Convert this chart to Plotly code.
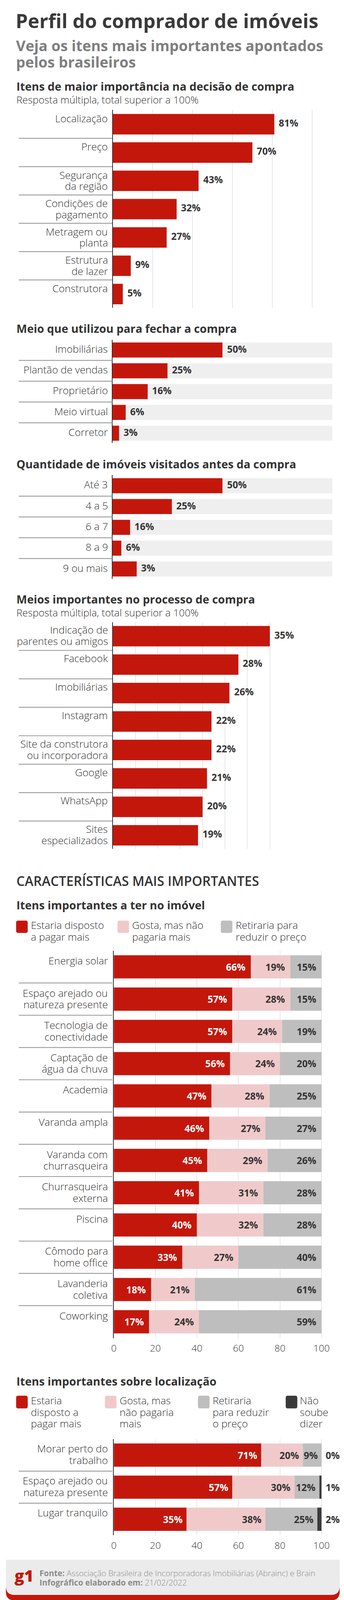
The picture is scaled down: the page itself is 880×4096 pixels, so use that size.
import numpy as np
import plotly.graph_objects as go

# ------------------------------------------------------------------ data
decisao_cat = ["Localização", "Preço", "Segurança<br>da região", "Condições de<br>pagamento",
               "Metragem ou<br>planta", "Estrutura<br>de lazer", "Construtora"]
decisao_val = [81, 70, 43, 32, 27, 9, 5]

fechar_cat = ["Imobiliárias", "Plantão de vendas", "Proprietário", "Meio virtual", "Corretor"]
fechar_val = [50, 25, 16, 6, 3]

visitas_cat = ["Até 3", "4 a 5", "6 a 7", "8 a 9", "9 ou mais"]
visitas_barra = [50, 27, 8, 4, 11]      # bar lengths as drawn in the original
visitas_rotulo = [50, 25, 16, 6, 3]     # values printed in the original

meios_cat = ["Indicação de<br>parentes ou amigos", "Facebook", "Imobiliárias", "Instagram",
             "Site da construtora<br>ou incorporadora", "Google", "WhatsApp", "Sites<br>especializados"]
meios_val = [35, 28, 26, 22, 22, 21, 20, 19]

itens_cat = ["Energia solar", "Espaço arejado ou<br>natureza presente", "Tecnologia de<br>conectividade",
             "Captação de<br>água da chuva", "Academia", "Varanda ampla", "Varanda com<br>churrasqueira",
             "Churrasqueira<br>externa", "Piscina", "Cômodo para<br>home office", "Lavanderia<br>coletiva",
             "Coworking"]
itens_pagaria = [66, 57, 57, 56, 47, 46, 45, 41, 40, 33, 18, 17]
itens_gosta = [19, 28, 24, 24, 28, 27, 29, 31, 32, 27, 21, 24]
itens_retiraria = [15, 15, 19, 20, 25, 27, 26, 28, 28, 40, 61, 59]
itens_series = ["Estaria disposto<br>a pagar mais", "Gosta, mas não<br>pagaria mais",
                "Retiraria para<br>reduzir o preço"]

local_cat = ["Morar perto do<br>trabalho", "Espaço arejado ou<br>natureza presente", "Lugar tranquilo"]
local_pagaria = [71, 57, 35]
local_gosta = [20, 30, 38]
local_retiraria = [9, 12, 25]
local_nao_sabe = [0, 1, 2]
local_series = ["Estaria<br>disposto a<br>pagar mais", "Gosta, mas<br>não pagaria<br>mais",
                "Retiraria<br>para reduzir<br>o preço", "Não<br>soube<br>dizer"]

eixo_ticks = [0, 20, 40, 60, 80, 100]
escala_max = 100

# ------------------------------------------------------------------ style
S = 880 / 1008
W, H = 1008, 4691
FONT = "Open Sans"
RED, PINK, GRAY, DARK = "#C4170C", "#F0CACA", "#BEBEBE", "#3A3A3A"
TRACK, TXT, GRID, SEP = "#EFEFEF", "#333333", "#D4D4D4", "#9A9A9A"


def fx(x):
    return x / W


def fy(y):
    return 1 - y / H


fig = go.Figure()
annotations, shapes, axes = [], [], {}


def font(size, color=TXT, weight=400):
    return dict(family=FONT, size=size * S, color=color, weight=weight)


def text(x, base, s, size, color=TXT, weight=400, xanchor="left"):
    annotations.append(dict(x=fx(x), y=fy(base - 0.35 * size), xref="paper", yref="paper",
                            text=s, showarrow=False, xanchor=xanchor, yanchor="middle",
                            borderpad=0, font=font(size, color, weight)))


def rrect(x0, y0, x1, y1, rt, rb):
    p = [f"M{fx(x0 + rt)},{fy(y0)}", f"L{fx(x1 - rt)},{fy(y0)}",
         f"Q{fx(x1)},{fy(y0)} {fx(x1)},{fy(y0 + rt)}", f"L{fx(x1)},{fy(y1 - rb)}",
         f"Q{fx(x1)},{fy(y1)} {fx(x1 - rb)},{fy(y1)}", f"L{fx(x0 + rb)},{fy(y1)}",
         f"Q{fx(x0)},{fy(y1)} {fx(x0)},{fy(y1 - rb)}", f"L{fx(x0)},{fy(y0 + rt)}",
         f"Q{fx(x0)},{fy(y0)} {fx(x0 + rt)},{fy(y0)}", "Z"]
    return " ".join(p)


def section(k, n, x0, unit, xmax, ytop, ybot, c0, pitch, bh, grid=None, ticks=False):
    s = "" if k == 1 else str(k)
    xa = dict(domain=[fx(x0), fx(x0 + unit * xmax)], range=[0, xmax], anchor="y" + s,
              showgrid=grid is not None, gridcolor=GRID, gridwidth=1.5 * S,
              tick0=0, dtick=grid or 20, zeroline=False, showline=False, ticks="",
              showticklabels=ticks, fixedrange=True)
    if ticks:
        xa.update(tickvals=eixo_ticks, ticktext=[str(t) for t in eixo_ticks],
                  tickfont=font(28, TXT, 300), ticklabelstandoff=9)
    axes["xaxis" + s] = xa
    axes["yaxis" + s] = dict(domain=[fy(ybot), fy(ytop)], range=[(ybot - c0) / pitch, (ytop - c0) / pitch],
                             anchor="x" + s, showgrid=False, zeroline=False, showticklabels=False,
                             showline=True, linecolor=TXT, linewidth=2 * S, fixedrange=True)
    for i in range(n - 1):
        shapes.append(dict(type="line", xref="paper", yref="y" + s, x0=fx(39), x1=fx(321),
                           y0=i + 0.5, y1=i + 0.5, line=dict(color=SEP, width=2.5 * S)))
    return "x" + s, "y" + s, bh / pitch


def bar(xa, ya, vals, color, bw, base=None):
    fig.add_trace(go.Bar(x=list(vals), y=list(range(len(vals))), base=None if base is None else list(base),
                         orientation="h", width=bw, marker=dict(color=color, line=dict(width=0)),
                         xaxis=xa, yaxis=ya, hoverinfo="skip", showlegend=False, opacity=1))


def cat_labels(ya, cats, bw, d0=23, ls=34, size=30, centered=False):
    for i, c in enumerate(cats):
        for j, ln in enumerate(c.split("<br>")):
            if centered:
                y, ysh = i, 3.5 * S
            else:
                y, ysh = i - bw / 2, -(d0 + j * ls - 0.35 * size) * S
            annotations.append(dict(x=fx(310), xref="paper", y=y, yref=ya, text=ln, showarrow=False,
                                    xanchor="right", yanchor="middle", yshift=ysh,
                                    font=font(size, TXT, 300)))


def out_labels(xa, ya, xs, labels, size=28, ysh=4):
    for i, (v, lab) in enumerate(zip(xs, labels)):
        annotations.append(dict(x=v, xref=xa, y=i, yref=ya, text=f"{lab}%", showarrow=False,
                                xanchor="left", yanchor="middle", xshift=11 * S, yshift=ysh * S,
                                font=font(size, TXT, 700)))


def stacked(xa, ya, series, colors, bw, pad, outside_last=False):
    n = len(series[0])
    base = np.zeros(n)
    for k, (vals, col) in enumerate(zip(series, colors)):
        bar(xa, ya, vals, col, bw, base=base)
        ends = base + np.array(vals)
        for i, v in enumerate(vals):
            last_out = outside_last and k == len(series) - 1
            annotations.append(dict(x=ends[i], xref=xa, y=i, yref=ya, text=f"{v}%", showarrow=False,
                                    xanchor="left" if last_out else "right", yanchor="middle",
                                    xshift=(10 if last_out else -pad) * S,
                                    font=font(28, "white" if k == 0 else TXT, 700)))
        base = ends


def legend(items, y0, y1, base0, ls=34.5):
    for col, lab, sx, tx in items:
        shapes.append(dict(type="path", xref="paper", yref="paper", path=rrect(sx, y0, sx + 35, y1, 6, 6),
                           fillcolor=col, line=dict(width=0)))
        for j, ln in enumerate(lab.split("<br>")):
            text(tx, base0 + j * ls, ln, 30, TXT, 300)


# ------------------------------------------------------------------ header
text(28, 72, "Perfil do comprador de imóveis", 57, "#3A3A3A", 700)
text(29, 139, "Veja os itens mais importantes apontados", 43, "#7F7F7F", 700)
text(29, 187, "pelos brasileiros", 43, "#7F7F7F", 700)

# ------------------------------------------------------------------ 1
text(31, 255, "Itens de maior importância na decisão de compra", 33, TXT, 700)
text(31, 293, "Resposta múltipla, total superior a 100%", 29.5, TXT, 300)
xa, ya, bw = section(1, len(decisao_cat), 323, 6.02, 100.5, 313, 893, 355, 83, 60, grid=20)
bar(xa, ya, decisao_val, RED, bw)
cat_labels(ya, decisao_cat, bw, d0=23, ls=33)
out_labels(xa, ya, decisao_val, decisao_val)

# ------------------------------------------------------------------ 2
text(31, 965, "Meio que utilizou para fechar a compra", 33, TXT, 700)
xa, ya, bw = section(2, len(fechar_cat), 322, 6.64, 100, 987, 1290, 1017, 61, 44)
bar(xa, ya, [escala_max] * len(fechar_cat), TRACK, bw)
bar(xa, ya, fechar_val, RED, bw)
cat_labels(ya, fechar_cat, bw, centered=True)
out_labels(xa, ya, fechar_val, fechar_val, ysh=3)

# ------------------------------------------------------------------ 3
text(31, 1362, "Quantidade de imóveis visitados antes da compra", 33, TXT, 700)
xa, ya, bw = section(3, len(visitas_cat), 322, 6.64, 100, 1384, 1688, 1415, 61, 44)
bar(xa, ya, [escala_max] * len(visitas_cat), TRACK, bw)
bar(xa, ya, visitas_barra, RED, bw)
cat_labels(ya, visitas_cat, bw, centered=True)
out_labels(xa, ya, visitas_barra, visitas_rotulo, ysh=3)

# ------------------------------------------------------------------ 4
text(31, 1759, "Meios importantes no processo de compra", 33, TXT, 700)
text(31, 1797, "Resposta múltipla, total superior a 100%", 29.5, TXT, 300)
xa, ya, bw = section(4, len(meios_cat), 323, 13.54, 35.25, 1815, 2480, 1856, 83.4, 60, grid=5)
bar(xa, ya, meios_val, RED, bw)
cat_labels(ya, meios_cat, bw, d0=22, ls=33)
out_labels(xa, ya, meios_val, meios_val)

# ------------------------------------------------------------------ 5
text(31, 2587, "CARACTERÍSTICAS MAIS IMPORTANTES", 38.5, TXT, 600)
text(31, 2655, "Itens importantes a ter no imóvel", 33, TXT, 700)
legend([(RED, itens_series[0], 31, 74), (PINK, itens_series[1], 337, 380), (GRAY, itens_series[2], 649, 693)],
       2690, 2726, 2713)
xa, ya, bw = section(5, len(itens_cat), 326, 6.27, 100.4, 2778, 3914, 2825.5, 94.6, 68, grid=20, ticks=True)
stacked(xa, ya, [itens_pagaria, itens_gosta, itens_retiraria], [RED, PINK, GRAY], bw, pad=13)
cat_labels(ya, itens_cat, bw, d0=26, ls=34)

# ------------------------------------------------------------------ 6
text(31, 4052, "Itens importantes sobre localização", 33, TXT, 700)
legend([(RED, local_series[0], 31, 74), (PINK, local_series[1], 299, 342),
        (GRAY, local_series[2], 580, 623), (DARK, local_series[3], 845, 887)],
       4083, 4120, 4107, 34)
xa, ya, bw = section(6, len(local_cat), 326, 6.27, 100.4, 4210, 4492, 4257, 94, 68, grid=20, ticks=True)
stacked(xa, ya, [local_pagaria, local_gosta, local_retiraria, local_nao_sabe], [RED, PINK, GRAY, DARK],
        bw, pad=9, outside_last=True)
cat_labels(ya, local_cat, bw, d0=25, ls=34)

# ------------------------------------------------------------------ footer
shapes.append(dict(type="path", xref="paper", yref="paper", path=rrect(0, 4564, 1008, 4683, 0, 26),
                   fillcolor=RED, line=dict(width=0), layer="below"))
shapes.append(dict(type="path", xref="paper", yref="paper", path=rrect(0, 4564, 1008, 4667, 0, 26),
                   fillcolor="#EBEBEB", line=dict(width=0), layer="below"))
text(25, 4626, "g1", 47, RED, 800)
text(100, 4611, "<b>Fonte:</b> Associação Brasileira de Incorporadoras Imobiliárias (Abrainc) e Brain",
     23.5, "#8A8A8A", 300)
text(100, 4638, "<b>Infográfico elaborado em:</b> 21/02/2022", 23.5, "#8A8A8A", 300)

fig.update_layout(width=880, height=4096, margin=dict(l=0, r=0, t=0, b=0),
                  paper_bgcolor="white", plot_bgcolor="rgba(0,0,0,0)", barmode="overlay",
                  showlegend=False, annotations=annotations, shapes=shapes, **axes)
fig.write_html("out.html", config={"displayModeBar": False})
